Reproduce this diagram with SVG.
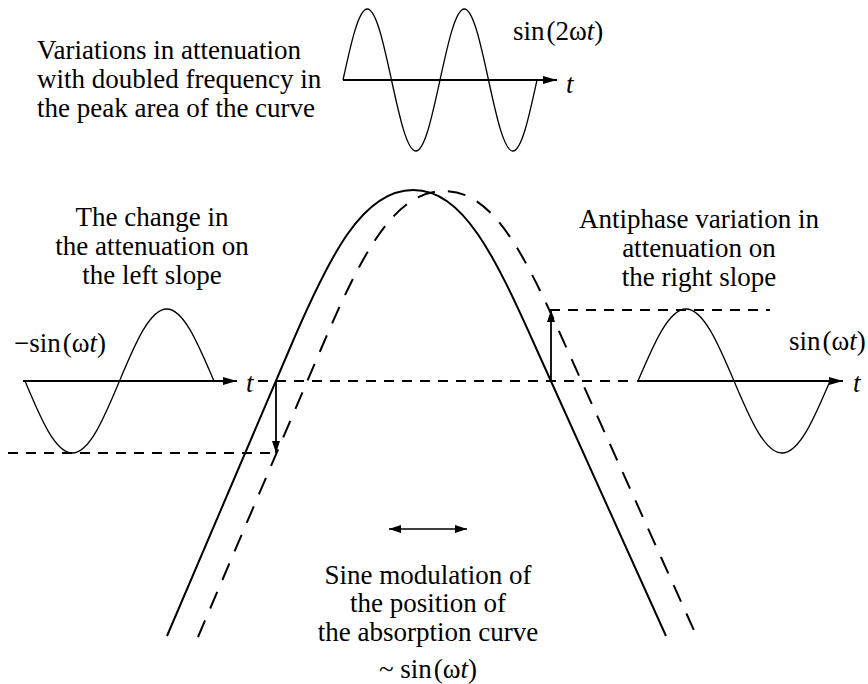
<svg xmlns="http://www.w3.org/2000/svg" width="868" height="684" viewBox="0 0 868 684">
<style>
text{font-family:"Liberation Serif","DejaVu Serif","Noto Serif",serif;font-size:27px;fill:#000}
.it{font-style:italic}
.mid{text-anchor:middle}
.curve{fill:none;stroke:#000;stroke-width:2}
.dcurve{fill:none;stroke:#000;stroke-width:2;stroke-dasharray:18 13}
.sine{fill:none;stroke:#000;stroke-width:1.3}
.axis{fill:none;stroke:#000;stroke-width:2.2;marker-end:url(#ah)}
.hd{fill:none;stroke:#000;stroke-width:1.8;stroke-dasharray:10 8}
.arr{fill:none;stroke:#000;stroke-width:1.8;marker-end:url(#ah2)}
</style>
<defs>
<marker id="ah" markerUnits="userSpaceOnUse" markerWidth="16" markerHeight="10" refX="14" refY="4" orient="auto">
<path d="M0,0 L14,4 L0,8 z" fill="#000"/>
</marker>
<marker id="ah2" markerUnits="userSpaceOnUse" markerWidth="14" markerHeight="10" refX="12" refY="4" orient="auto">
<path d="M0,0 L12,4 L0,8 z" fill="#000"/>
</marker>
<marker id="ah3" markerUnits="userSpaceOnUse" markerWidth="14" markerHeight="10" refX="0" refY="4" orient="auto">
<path d="M12,0 L0,4 L12,8 z" fill="#000"/>
</marker>
</defs>

<g font-family="Liberation Serif, DejaVu Serif, serif">
<g id="absorption-curves">
<path class="curve" d="M167,636 L290,348 C330,254 363,190 413,190 C463,190 494,254 536,348 L666,636"/>
<path class="dcurve" transform="translate(31,1)" d="M167,636 L290,348 C330,254 363,190 413,190 C463,190 494,254 536,348 L666,636"/>
</g>

<g id="connectors">
<path class="hd" d="M258,381 H636"/>
<path class="hd" d="M8,453 H278"/>
<path class="hd" d="M550,310 H770"/>
<path class="arr" d="M276,381 V453"/>
<path class="arr" d="M551,381 V310"/>
<path d="M389,529 H467" fill="none" stroke="#000" stroke-width="1.6" marker-end="url(#ah2)" marker-start="url(#ah3)"/>
</g>

<g id="top-sine">
<path class="axis" d="M343,80 H557"/>
<path class="sine" d="M343,80 C350.9,43.6 358.5,9 367.3,9 S383.6,43.6 391.5,80 S407,151 415.8,151 S432.1,116.4 440,80 S455.5,9 464.3,9 S480.6,43.6 488.5,80 S504,151 512.8,151 S529.1,116.4 537,80"/>
<text class="it" x="566" y="93">t</text>
<text x="513" y="40">sin<tspan dx="2">(2ω</tspan><tspan class="it">t</tspan>)</text>
</g>

<g id="top-label">
<text x="37" y="59">Variations in attenuation</text>
<text x="37" y="88">with doubled frequency in</text>
<text x="37" y="117">the peak area of the curve</text>
</g>

<g id="left-sine">
<path class="axis" d="M23,381 H237"/>
<path class="sine" d="M25,381 C40.4,417.9 55.2,453 72.3,453 S104.1,417.9 119.5,381 S149.7,309 166.8,309 S198.6,345.1 214,381"/>
<text class="it" x="246" y="392">t</text>
<text x="14" y="352">−sin<tspan dx="2">(ω</tspan><tspan class="it">t</tspan>)</text>
</g>

<g id="left-label">
<text class="mid" x="152" y="226">The change in</text>
<text class="mid" x="152" y="255">the attenuation on</text>
<text class="mid" x="152" y="284">the left slope</text>
</g>

<g id="right-sine">
<path class="axis" d="M637,381 H843"/>
<path class="sine" d="M638,381 C653.7,344.1 668.6,309 686,309 S718.4,344.1 734,381 S764.6,453 782,453 S814.4,417.9 830,381"/>
<text class="it" x="853" y="392">t</text>
<text x="789" y="350">sin<tspan dx="2">(ω</tspan><tspan class="it">t</tspan>)</text>
</g>

<g id="right-label">
<text class="mid" x="699" y="228">Antiphase variation in</text>
<text class="mid" x="699" y="257">attenuation on</text>
<text class="mid" x="699" y="286">the right slope</text>
</g>

<g id="bottom-label">
<text class="mid" x="428" y="584">Sine modulation of</text>
<text class="mid" x="428" y="612">the position of</text>
<text class="mid" x="428" y="641">the absorption curve</text>
<text class="mid" x="428" y="678">~ sin<tspan dx="2">(ω</tspan><tspan class="it">t</tspan>)</text>
</g>
</g>
</svg>
